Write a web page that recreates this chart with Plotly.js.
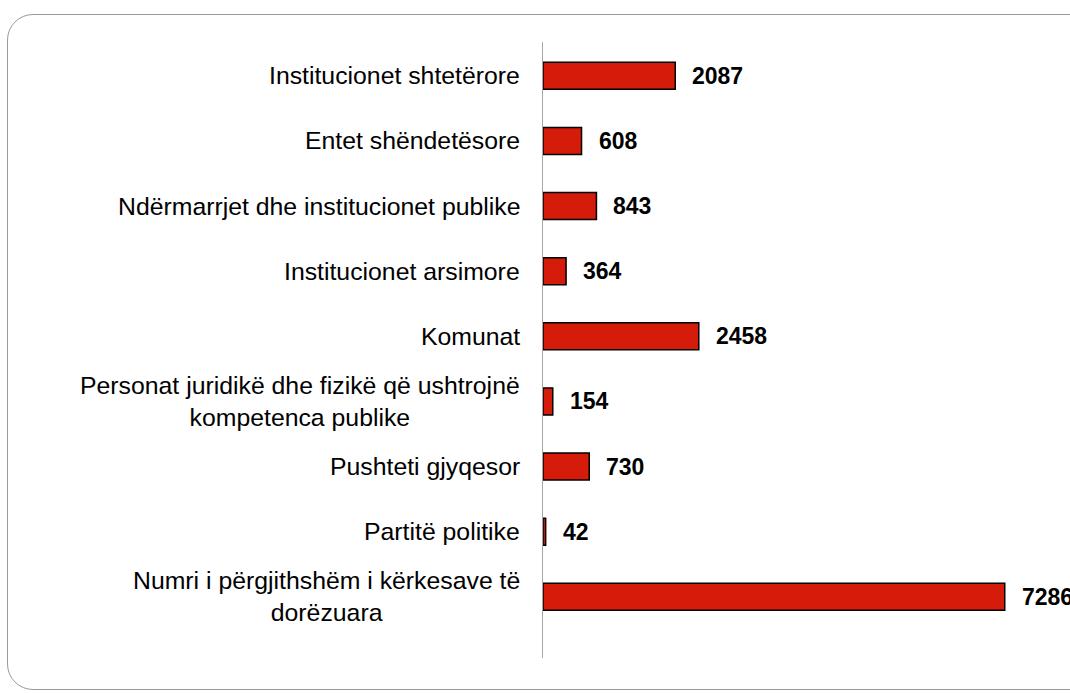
<!DOCTYPE html>
<html>
<head>
<meta charset="utf-8">
<script src="https://cdn.plot.ly/plotly-3.0.1.min.js"></script>
<style>
  html, body { margin: 0; padding: 0; background: #ffffff; overflow: hidden; }
  #frame { position: absolute; left: 7px; top: 14px; width: 1120px; height: 676px;
           border: 1.5px solid #9a9a9a; border-radius: 26px; box-sizing: border-box; }
  #chart { position: absolute; left: 0; top: 0; width: 1070px; height: 693px; }
</style>
</head>
<body>
<div id="frame"></div>
<div id="chart"></div>
<script>
const categories = [
  "Institucionet shtetërore",
  "Entet shëndetësore",
  "Ndërmarrjet dhe institucionet publike",
  "Institucionet arsimore",
  "Komunat",
  "Personat juridikë dhe fizikë që ushtrojnë<br>kompetenca publike",
  "Pushteti gjyqesor",
  "Partitë politike",
  "Numri i përgjithshëm i kërkesave të<br>dorëzuara"
];
const values = [2087, 608, 843, 364, 2458, 154, 730, 42, 7286];

const FONT = '"Liberation Sans", Arial, sans-serif';

const trace = {
  type: 'bar',
  orientation: 'h',
  x: values,
  y: categories,
  width: 0.415,
  marker: { color: '#d51b09', line: { color: '#000000', width: 1.5 } },
  hoverinfo: 'none'
};

const annotations = [];
categories.forEach((c, i) => {
  annotations.push({
    xref: 'paper', yref: 'y', x: 0, y: c,
    text: c, showarrow: false, xanchor: 'right', yanchor: 'middle',
    align: 'center', xshift: -21,
    font: { family: FONT, size: 24.8, color: '#000000' }
  });
  annotations.push({
    xref: 'x', yref: 'y', x: values[i], y: c,
    text: '<b>' + values[i] + '</b>', showarrow: false,
    xanchor: 'left', yanchor: 'middle', xshift: 15,
    font: { family: FONT, size: 23, color: '#000000' }
  });
});

const layout = {
  width: 1070, height: 693,
  margin: { l: 543, r: 20, t: 42, b: 35, pad: 0 },
  paper_bgcolor: 'rgba(0,0,0,0)',
  plot_bgcolor: 'rgba(0,0,0,0)',
  showlegend: false,
  xaxis: { range: [0, 8000], visible: false, fixedrange: true },
  yaxis: {
    type: 'category',
    range: [8.94, -0.52],
    showticklabels: false,
    showgrid: false, zeroline: false,
    showline: true, linecolor: '#a6a6a6', linewidth: 1.5,
    ticks: '', fixedrange: true
  },
  annotations: annotations,
  font: { family: FONT }
};

Plotly.newPlot('chart', [trace], layout, { displayModeBar: false, staticPlot: true });
</script>
</body>
</html>
